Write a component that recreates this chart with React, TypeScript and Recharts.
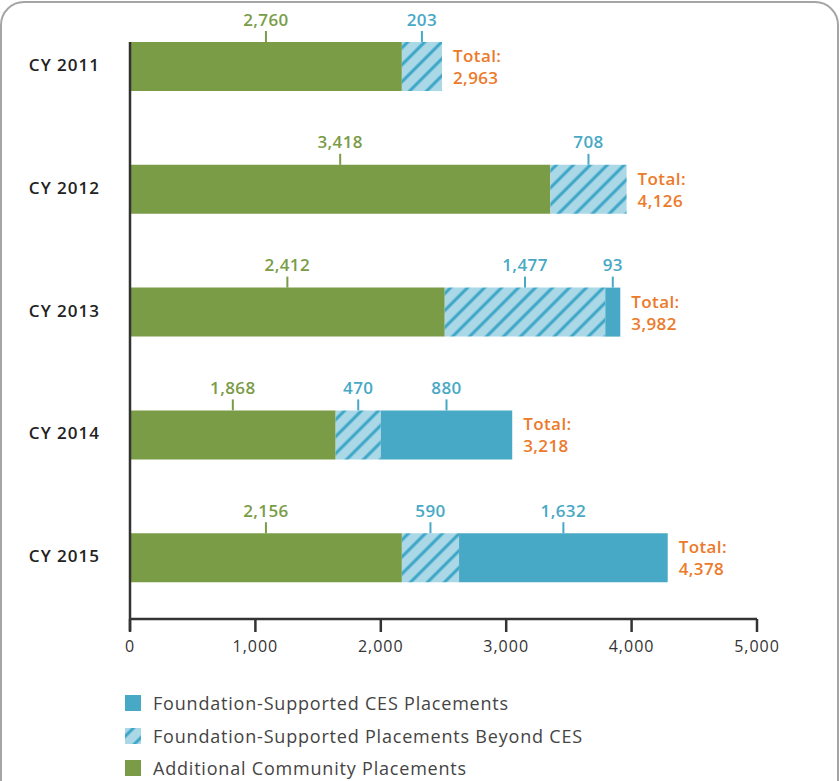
import React from 'react';
import { BarChart, Bar, XAxis, YAxis, LabelList, ReferenceLine } from 'recharts';

// categories and values (bar lengths as drawn, printed labels as shown)
const years = ['CY 2011', 'CY 2012', 'CY 2013', 'CY 2014', 'CY 2015'];
const community = [2168, 3352, 2510, 1640, 2168];
const beyondCes = [320, 608, 1280, 360, 456];
const cesPlaced = [0, 0, 120, 1048, 1664];

const communityTags = ['2,760', '3,418', '2,412', '1,868', '2,156'];
const beyondTags = ['203', '708', '1,477', '470', '590'];
const cesTags = ['', '', '93', '880', '1,632'];
const totalTags = ['2,963', '4,126', '3,982', '3,218', '4,378'];

const xTicks = [0, 1000, 2000, 3000, 4000, 5000];

const GREEN = '#7A9C47';
const BLUE = '#47A9C5';
const LIGHT = '#ABD8E6';
const STRIPE = '#3BA5C7';
const ORANGE = '#EC7A2B';
const FONT = '"Open Sans", sans-serif';

const rows = years.map((year, i) => ({
  year,
  community: community[i],
  beyond: beyondCes[i],
  ces: cesPlaced[i],
  communityTag: communityTags[i],
  beyondTag: beyondTags[i],
  cesTag: cesTags[i],
  communityTotal: beyondCes[i] === 0 && cesPlaced[i] === 0 ? totalTags[i] : '',
  beyondTotal: beyondCes[i] > 0 && cesPlaced[i] === 0 ? totalTags[i] : '',
  cesTotal: cesPlaced[i] > 0 ? totalTags[i] : '',
}));

const legendItems = [
  { name: 'Foundation-Supported CES Placements', kind: 'solid' },
  { name: 'Foundation-Supported Placements Beyond CES', kind: 'hatch' },
  { name: 'Additional Community Placements', kind: 'green' },
];

const valueTag = (color: string) => (props: any) => {
  const { x, y, width, value } = props;
  if (!value) return null;
  const cx = Number(x) + Number(width) / 2;
  const top = Number(y);
  return (
    <g>
      <line x1={cx} x2={cx} y1={top - 11} y2={top} stroke={color} strokeWidth={2} />
      <text x={cx} y={top - 23} textAnchor="middle" dominantBaseline="central"
        fill={color} fontSize={17} fontWeight={600} fontFamily={FONT}
        style={{ letterSpacing: 0.4 }}>{value}</text>
    </g>
  );
};

const totalTag = (props: any) => {
  const { x, y, width, height, value } = props;
  if (!value) return null;
  const left = Number(x) + Number(width) + 11;
  const cy = Number(y) + Number(height) / 2;
  return (
    <g fill={ORANGE} fontSize={17} fontWeight={600} fontFamily={FONT} style={{ letterSpacing: 0.4 }}>
      <text x={left} y={cy - 11} dominantBaseline="central">Total:</text>
      <text x={left} y={cy + 11} dominantBaseline="central">{value}</text>
    </g>
  );
};

const YearTick = (props: any) => {
  const { y, payload } = props;
  return (
    <text x={100} y={Number(y) - 2} textAnchor="end" dominantBaseline="central"
      fill="#222" fontSize={17} fontWeight={600} fontFamily={FONT}
      style={{ letterSpacing: 1 }}>{payload.value}</text>
  );
};

const AxisStem = (props: any) => {
  const { x1, y1, y2 } = props;
  const top = Math.min(Number(y1), Number(y2));
  const bottom = Math.max(Number(y1), Number(y2));
  return <line x1={x1} x2={x1} y1={top + 37} y2={bottom + 12} stroke="#333" strokeWidth={2.5} />;
};

const Swatch = ({ kind }: { kind: string }) => (
  <svg width={16} height={16} style={{ display: 'block' }}>
    <defs>
      <pattern id="hatchLegend" patternUnits="userSpaceOnUse" width={12} height={12} patternTransform="rotate(45)">
        <rect width={12} height={12} fill={LIGHT} />
        <line x1={6} x2={6} y1={0} y2={12} stroke={STRIPE} strokeWidth={3} />
      </pattern>
    </defs>
    <rect width={16} height={16} fill={kind === 'solid' ? BLUE : kind === 'green' ? GREEN : 'url(#hatchLegend)'} />
  </svg>
);

export default function App() {
  return (
    <div style={{ position: 'absolute', left: 0, top: 0, width: 840, height: 781, overflow: 'hidden', background: '#fff', fontFamily: FONT }}>
      <div style={{ position: 'absolute', left: 0, top: 1, width: 839, height: 900, boxSizing: 'border-box', border: '2px solid #a5a5a5', borderRadius: 24 }} />
      <div style={{ position: 'absolute', left: 0, top: 0 }}>
        <BarChart width={840} height={680} data={rows} layout="vertical" barSize={49}
          margin={{ top: 5, right: 83, left: 0, bottom: 0 }}>
          <defs>
            <pattern id="hatch" patternUnits="userSpaceOnUse" width={12} height={12} patternTransform="rotate(45)">
              <rect width={12} height={12} fill={LIGHT} />
              <line x1={6} x2={6} y1={0} y2={12} stroke={STRIPE} strokeWidth={3} />
            </pattern>
          </defs>
          <XAxis type="number" domain={[0, 5000]} ticks={xTicks} height={61}
            tickFormatter={(v: number) => v.toLocaleString('en-US')}
            axisLine={{ stroke: '#333', strokeWidth: 2.5 }}
            tickLine={{ stroke: '#333', strokeWidth: 2.5 }}
            tickSize={13} tickMargin={9}
            tick={{ fill: '#333', fontSize: 16, fontFamily: FONT, style: { letterSpacing: 1 } }} />
          <YAxis type="category" dataKey="year" width={130} axisLine={false} tickLine={false} tick={<YearTick />} />
          <Bar dataKey="community" stackId="a" fill={GREEN} isAnimationActive={false}>
            <LabelList dataKey="communityTag" content={valueTag(GREEN)} />
            <LabelList dataKey="communityTotal" content={totalTag} />
          </Bar>
          <Bar dataKey="beyond" stackId="a" fill="url(#hatch)" isAnimationActive={false}>
            <LabelList dataKey="beyondTag" content={valueTag(BLUE)} />
            <LabelList dataKey="beyondTotal" content={totalTag} />
          </Bar>
          <Bar dataKey="ces" stackId="a" fill={BLUE} isAnimationActive={false}>
            <LabelList dataKey="cesTag" content={valueTag(BLUE)} />
            <LabelList dataKey="cesTotal" content={totalTag} />
          </Bar>
          <ReferenceLine x={0} shape={AxisStem} />
        </BarChart>
      </div>
      <div style={{ position: 'absolute', left: 125, top: 687 }}>
        {legendItems.map((item) => (
          <div key={item.name} style={{ display: 'flex', alignItems: 'center', height: 32.5 }}>
            <Swatch kind={item.kind} />
            <span style={{ marginLeft: 12, fontSize: 18, letterSpacing: 0.8, color: '#444' }}>{item.name}</span>
          </div>
        ))}
      </div>
    </div>
  );
}
